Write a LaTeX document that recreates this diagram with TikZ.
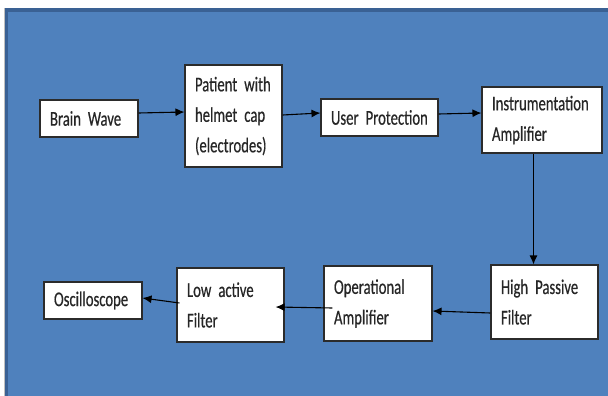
\documentclass[tikz,border=0pt]{standalone}
\usepackage{fontspec}
\usetikzlibrary{arrows.meta}
\newfontfamily\boxfont[FakeStretch=0.7, FakeBold=0.4]{Carlito}
\newcommand\stagefont{\boxfont\fontsize{21}{30.5}\selectfont\spaceskip=2.6pt plus 1pt minus 0.5pt\relax}
\definecolor{panelblue}{HTML}{4F81BD}
\definecolor{paneledge}{HTML}{3A6194}
\definecolor{boxline}{HTML}{2B2B2B}
\begin{document}
\begin{tikzpicture}[x=1pt,y=-1pt,
  stage/.style={draw=boxline, line width=1.1pt, fill=white, rectangle,
    inner xsep=10pt, inner ysep=0pt, align=left, text=black!85,
    font=\stagefont},
  flow/.style={draw=black, line width=1.1pt, -{Latex[length=9pt,width=8pt]}}]
  \useasboundingbox (0,0) rectangle (608,396);
  % panel background with its darker top and left edge
  \fill[white] (0,0) rectangle (608,396);
  \fill[panelblue] (5,8) rectangle (608,396);
  \fill[paneledge] (5,8) rectangle (608,12);
  \fill[paneledge] (5,8) rectangle (8,396);
  \draw[black!25, line width=0.8pt] (4.4,8) -- (4.4,396);

  % stages of the signal chain
  \node[stage, text width=78pt, minimum height=37pt]  (brain)   at (89,118.5)  {Brain Wave};
  \node[stage, text width=77pt, minimum height=102pt] (patient) at (233.5,116) {Patient with\\helmet cap\\(electrodes)};
  \node[stage, text width=97pt, minimum height=37pt]  (user)    at (379.5,117.5) {User Protection};
  \node[stage, text width=100pt, minimum height=66pt] (instr)   at (542,120)   {Instrumentation\\Amplifier};
  \node[stage, text width=87pt, minimum height=74pt]  (hpf)     at (544.5,302) {High Passive\\Filter};
  \node[stage, text width=88pt, minimum height=75pt]  (opamp)   at (378,303.5) {Operational\\Amplifier};
  \node[stage, text width=87pt, minimum height=74pt]  (lpf)     at (230.5,305) {Low active\\Filter};
  \node[stage, text width=78pt, minimum height=37pt]  (scope)   at (93,300.5)  {Oscilloscope};

  % connectors
  \draw[flow] ([yshift=5.5pt]brain.east) -- ([yshift=4pt]patient.west);
  \draw[flow] ([yshift=1pt]patient.east) -- ([yshift=4.5pt]user.west);
  \draw[flow] ([yshift=3.5pt]user.east) -- ([yshift=7pt]instr.west);
  \draw[flow] ([xshift=-8.5pt]instr.south) -- ([xshift=-8.5pt]instr.south |- hpf.north);
  \draw[flow] ([yshift=-11pt]hpf.west) -- ([yshift=-7.5pt]opamp.east);
  \draw[flow] ([xshift=9pt,yshift=-4.5pt]opamp.west) -- ([xshift=-9pt,yshift=-2pt]lpf.east);
  \draw[flow] ([xshift=3pt,yshift=2pt]lpf.west) -- ([yshift=2.5pt]scope.east);
\end{tikzpicture}
\end{document}
